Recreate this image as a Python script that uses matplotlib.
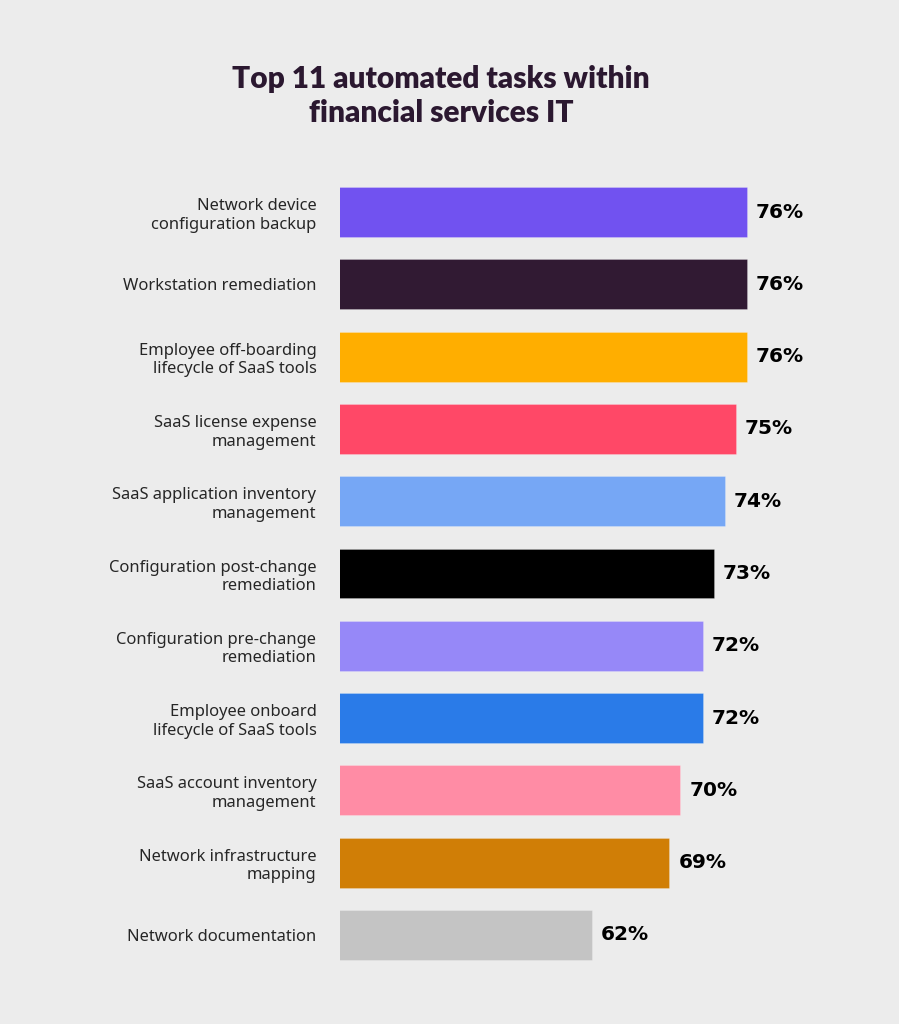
import matplotlib
matplotlib.use("Agg")
import matplotlib.pyplot as plt
from matplotlib.transforms import offset_copy

categories = [
    "Network device\nconfiguration backup",
    "Workstation remediation",
    "Employee off-boarding\nlifecycle of SaaS tools",
    "SaaS license expense\nmanagement",
    "SaaS application inventory\nmanagement",
    "Configuration post-change\nremediation",
    "Configuration pre-change\nremediation",
    "Employee onboard\nlifecycle of SaaS tools",
    "SaaS account inventory\nmanagement",
    "Network infrastructure\nmapping",
    "Network documentation",
]
values = [76, 76, 76, 75, 74, 73, 72, 72, 70, 69, 62]
value_labels = ["76%", "76%", "76%", "75%", "74%", "73%", "72%", "72%", "70%", "69%", "62%"]
colors = ["#7152f0", "#311a33", "#ffae00", "#ff4867", "#76a7f5", "#000000",
          "#9688f8", "#2a7be8", "#ff8ca5", "#d07e06", "#c4c4c4"]

BG = "#ececec"
W, H = 899, 1024
fig = plt.figure(figsize=(W / 100, H / 100), dpi=100, facecolor=BG)

ax_left, ax_right = 340, 880
ax_top, ax_bottom = 176, 971
ax = fig.add_axes([ax_left / W, 1 - ax_bottom / H, (ax_right - ax_left) / W, (ax_bottom - ax_top) / H])
ax.set_facecolor(BG)

ypos = list(range(len(categories)))
ax.barh(ypos, values, height=0.69, color=colors, edgecolor="#ffffff40", linewidth=0.6)
ax.set_xlim(39.3, 88.0)
ax.set_ylim(len(categories) - 0.5, -0.5)

for s in ax.spines.values():
    s.set_visible(False)
ax.set_xticks([])
ax.set_yticks(ypos)
ax.set_yticklabels(categories, fontsize=11.9, color="#262626", family=["Noto Sans", "DejaVu Sans"],
                   ha="right", multialignment="right", linespacing=1.22)
ax.tick_params(axis="y", length=0, pad=17)

for y, v, lab in zip(ypos, values, value_labels):
    tr = offset_copy(ax.transData, fig=fig, x=9, y=0, units="dots")
    ax.text(v, y, lab, transform=tr, ha="left", va="center", fontsize=14.5,
            fontweight="bold", color="#000000", family=["DejaVu Sans"])

fig.text(441 / W, 1 - 96 / H, "Top 11 automated tasks within\nfinancial services IT", ha="center", va="center",
         fontsize=21.5, fontweight="heavy", color="#2b1830", family=["Lato", "DejaVu Sans"], linespacing=1.3)

fig.savefig("out.png", dpi=100, facecolor=BG)
